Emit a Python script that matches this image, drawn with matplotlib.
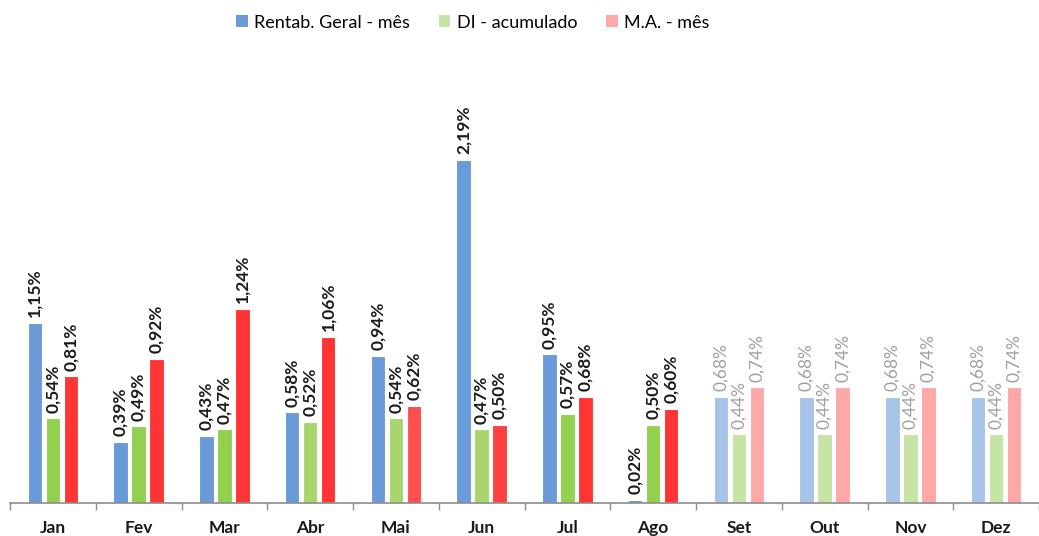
import numpy as np
import matplotlib.pyplot as plt
from matplotlib.patches import Patch

plt.rcParams['font.family'] = ['Lato', 'DejaVu Sans']

meses = ['Jan', 'Fev', 'Mar', 'Abr', 'Mai', 'Jun', 'Jul', 'Ago', 'Set', 'Out', 'Nov', 'Dez']
rentab = [1.15, 0.39, 0.43, 0.58, 0.94, 2.19, 0.95, 0.02, 0.68, 0.68, 0.68, 0.68]
di_acum = [0.54, 0.49, 0.47, 0.52, 0.54, 0.47, 0.57, 0.50, 0.44, 0.44, 0.44, 0.44]
ma_mes = [0.81, 0.92, 1.24, 1.06, 0.62, 0.50, 0.68, 0.60, 0.74, 0.74, 0.74, 0.74]
n_real = 8  # meses realizados; o resto e projecao

series = [
    ('Rentab. Geral - mês', rentab, '#6a9bd8', '#a7c3e8'),
    ('DI - acumulado', di_acum, '#92d050', '#c6e5a5'),
    ('M.A. - mês', ma_mes, '#ff3535', '#ffa8a8'),
]
# tons um pouco mais claros em alguns meses
green_real = ['#92d050', '#92d050', '#92d050', '#a9d66c', '#a9d66c', '#a9d66c', '#92d050', '#92d050']
red_real = ['#ff3535', '#ff3535', '#ff3535', '#ff3535', '#ff4f4f', '#ff4040', '#ff3535', '#ff3535']

fig = plt.figure(figsize=(10.39, 5.36), dpi=100)
cat_px = 86.6
left_px = 10
ax = fig.add_axes([left_px / 1039, 33 / 536, 1 - left_px / 1039, (503 - 40) / 536])

x = np.arange(len(meses))
w = 0.17
offs = [-0.21, 0, 0.21]

for k, (name, vals, c_real, c_proj) in enumerate(series):
    cols = []
    for i in range(len(meses)):
        if i < n_real:
            if k == 1:
                cols.append(green_real[i])
            elif k == 2:
                cols.append(red_real[i])
            else:
                cols.append(c_real)
        else:
            cols.append(c_proj)
    ax.bar(x + offs[k], vals, width=w, color=cols, edgecolor='white', linewidth=0.8, zorder=2)
    for i, v in enumerate(vals):
        lab = ('%.2f%%' % v).replace('.', ',')
        if i < n_real:
            ax.annotate(lab, (x[i] + offs[k], v), xytext=(0, 4), textcoords='offset points',
                        rotation=90, ha='center', va='bottom', fontsize=12.5,
                        fontweight='bold', color='#1a1a1a')
        else:
            ax.annotate(lab, (x[i] + offs[k], v), xytext=(0, 4), textcoords='offset points',
                        rotation=90, ha='center', va='bottom', fontsize=12.5,
                        color='#a0a0a0')

ax.set_xlim(-0.5, -0.5 + (1039 - left_px) / cat_px)
ax.set_ylim(0, 463 / 156.6)

for s in ['top', 'right', 'left']:
    ax.spines[s].set_visible(False)
ax.spines['bottom'].set_color('#8c8c8c')
ax.spines['bottom'].set_linewidth(1.2)
ax.set_yticks([])

ax.set_xticks(np.arange(-0.5, 12, 1.0))
ax.set_xticklabels([])
ax.tick_params(axis='x', which='major', length=5, color='#8c8c8c', width=1)
ax.set_xticks(x, minor=True)
ax.set_xticklabels(meses, minor=True, fontsize=12.5, fontweight='bold', color='#1a1a1a')
ax.tick_params(axis='x', which='minor', length=0, pad=12)

handles = [Patch(facecolor=c, edgecolor='none', label=n) for n, _, c, _ in series]
handles[1] = Patch(facecolor='#c6e5a5', edgecolor='none', label=series[1][0])
handles[2] = Patch(facecolor='#ffa8a8', edgecolor='none', label=series[2][0])
fig.legend(handles=handles, loc='upper center', bbox_to_anchor=(0.455, 1.003), ncol=3,
           frameon=False, fontsize=13, handlelength=0.65, handleheight=0.65,
           handletextpad=0.35, columnspacing=1.6)

fig.savefig('out.png', dpi=100)
